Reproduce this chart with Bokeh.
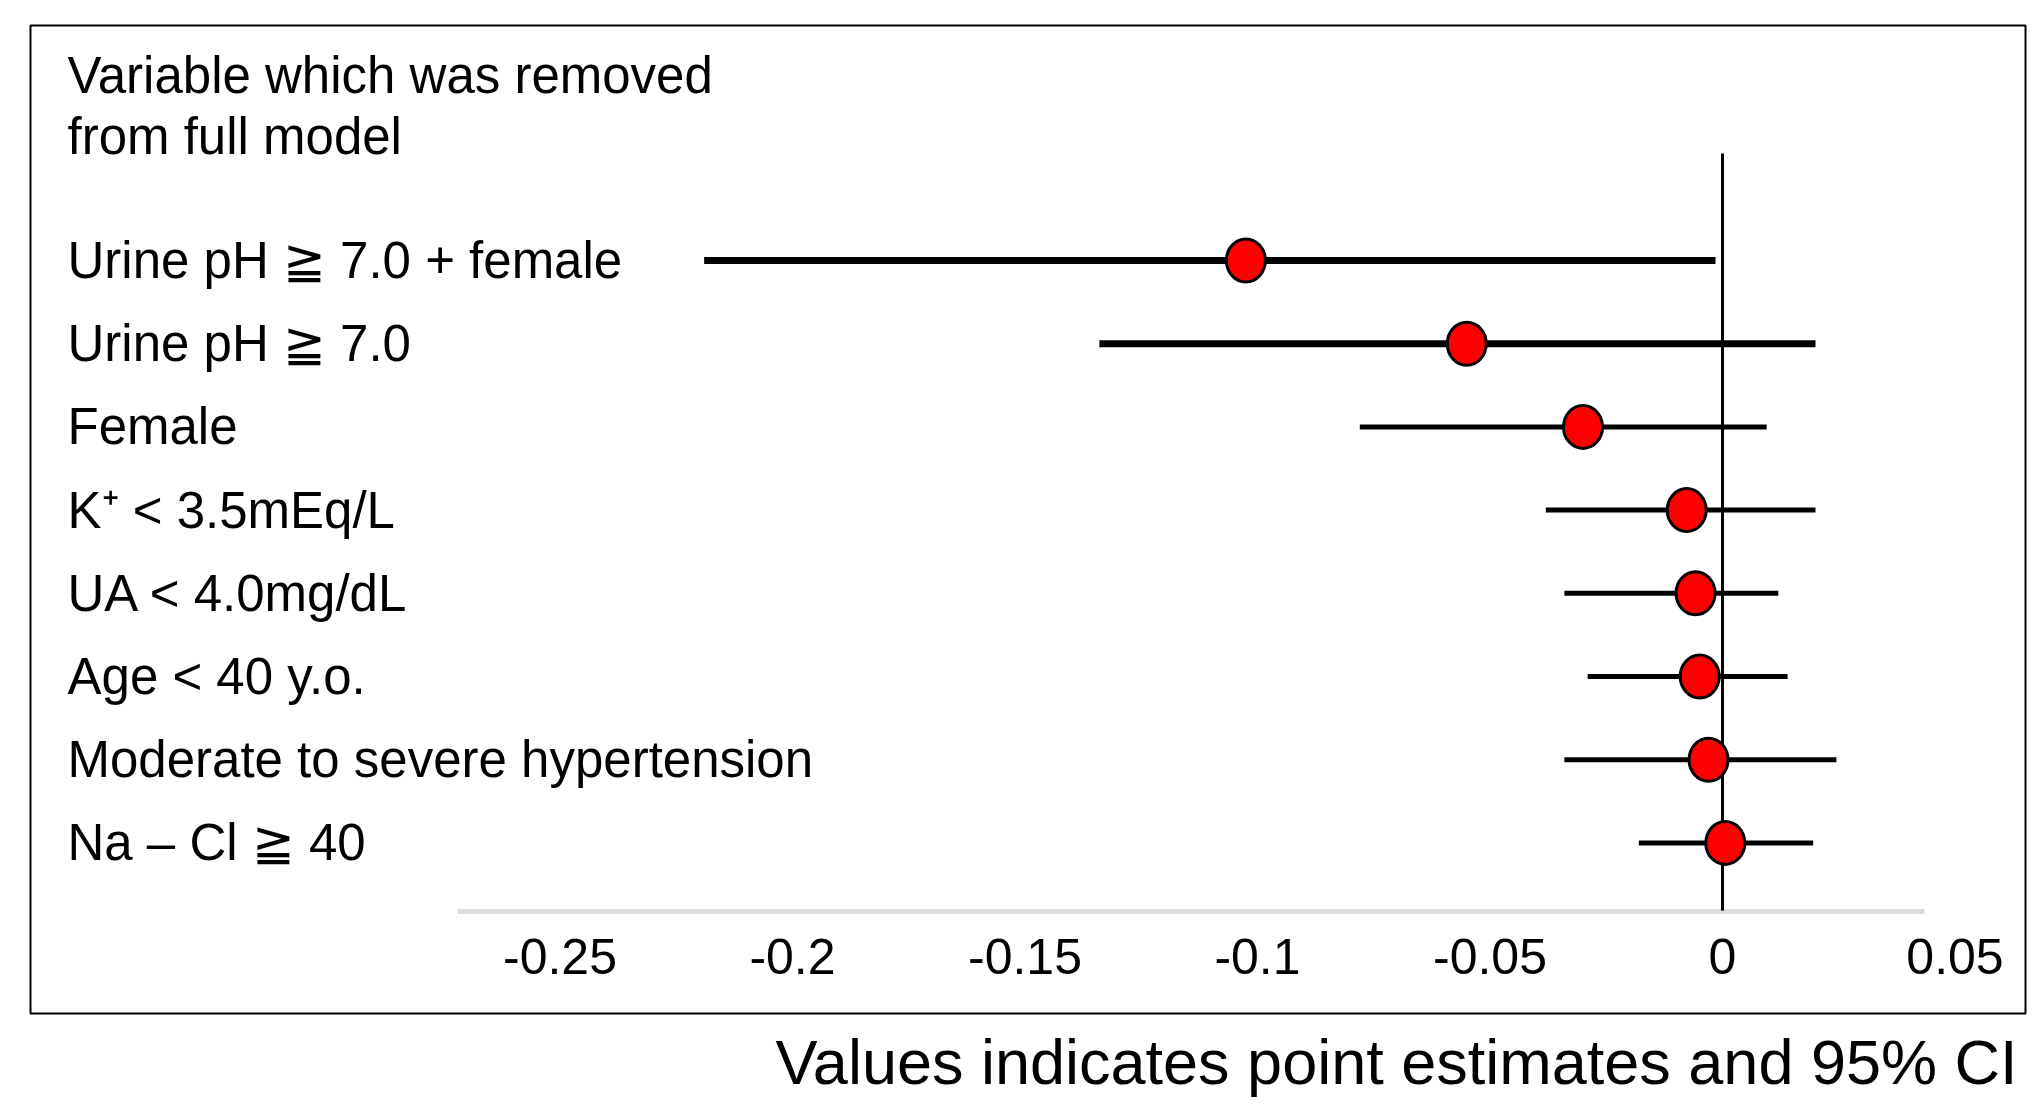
from bokeh.plotting import figure
from bokeh.models import Range1d, LinearAxis, FixedTicker, Title, ColumnDataSource
from bokeh.core.properties import value
from bokeh.embed import file_html
from bokeh.resources import INLINE

# ---------------- data ----------------
variables = [
    "Urine pH \u2267 7.0 + female",
    "Urine pH \u2267 7.0",
    "Female",
    "K\u207a < 3.5mEq/L",
    "UA < 4.0mg/dL",
    "Age < 40 y.o.",
    "Moderate to severe hypertension",
    "Na \u2013 Cl \u2267 40",
]
estimates = [-0.1025, -0.055, -0.030, -0.0077, -0.0058, -0.0049, -0.0030, 0.0006]
ci_lower = [-0.219, -0.134, -0.078, -0.038, -0.034, -0.029, -0.034, -0.018]
ci_upper = [-0.0015, 0.020, 0.0095, 0.020, 0.012, 0.014, 0.0245, 0.0195]
tick_values = [-0.25, -0.2, -0.15, -0.1, -0.05, 0.0, 0.05]
tick_labels = ["-0.25", "-0.2", "-0.15", "-0.1", "-0.05", "0", "0.05"]
header_lines = ["Variable which was removed", "from full model"]
caption = "Values indicates point estimates and 95% CI"

# ---------------- layout (pixels, figure coordinates) ----------------
W, H = 2027, 1107
FR_L, FR_T, FR_R, FR_B = 30, 25, 2025, 1013   # the box
ZERO_PX = 1722          # x pixel of value 0
PX_PER_UNIT = 4650.0
ROW0_PX = 260.0         # y pixel of first row
ROW_STEP = 83.2

def px_to_x(px):
    return (px - ZERO_PX) / PX_PER_UNIT

def px_to_y(py):
    return (py - ROW0_PX) / ROW_STEP

x_range = Range1d(px_to_x(FR_L), px_to_x(FR_R))
y_range = Range1d(px_to_y(FR_B), px_to_y(FR_T))

p = figure(width=W, height=H, x_range=x_range, y_range=y_range,
           output_backend="svg", toolbar_location=None,
           x_axis_location=None, y_axis_location=None,
           min_border_left=FR_L, min_border_top=FR_T,
           min_border_right=W - FR_R, min_border_bottom=H - FR_B)
p.grid.visible = False
p.outline_line_color = "black"
p.outline_line_width = 2
p.background_fill_color = "white"
p.border_fill_color = "white"

line_widths = [7, 7, 5, 5, 5, 5, 5, 5]
src = ColumnDataSource(dict(
    row=list(range(len(variables))),
    variable=variables,
    est=estimates,
    lo=ci_lower,
    hi=ci_upper,
    lw=line_widths,
))

FONT = value("Liberation Sans")

# header
p.text(x=[px_to_x(67)] * 2, y=[px_to_y(75), px_to_y(136)], text=header_lines,
       text_font=FONT, text_font_size="51px", text_align="left",
       text_baseline="middle", text_color="black")

# row labels
p.text(x=px_to_x(67), y="row", text="variable", source=src,
       text_font=FONT, text_font_size="51px", text_align="left",
       text_baseline="middle", text_color="black")

# axis line (light gray)
axis_y = px_to_y(911)
p.segment(x0=[px_to_x(457)], x1=[px_to_x(1924)], y0=[axis_y], y1=[axis_y],
          line_color="#dcdcdc", line_width=5)

# zero reference line
p.segment(x0=[0], x1=[0], y0=[px_to_y(153)], y1=[px_to_y(910)],
          line_color="black", line_width=3)

# confidence intervals
p.segment(x0="lo", x1="hi", y0="row", y1="row", source=src,
          line_color="black", line_width="lw")

# point estimates
p.ellipse(x="est", y="row", width=39, height=43, width_units="screen",
          height_units="screen", source=src, fill_color="#ff0000",
          line_color="black", line_width=3)

# x axis drawn inside the box
xaxis = LinearAxis(fixed_location=axis_y,
                   ticker=FixedTicker(ticks=tick_values),
                   major_label_overrides=dict(zip(tick_values, tick_labels)),
                   axis_line_color=None, major_tick_line_color=None,
                   minor_tick_line_color=None,
                   major_label_text_font="Liberation Sans",
                   major_label_text_font_size="50px",
                   major_label_text_color="black",
                   major_label_standoff=21)
p.add_layout(xaxis, "below")

# caption below the box
cap = Title(text=caption, align="left", offset=745,
            text_font="Liberation Sans", text_font_size="63px",
            text_font_style="normal", text_color="black", standoff=22)
p.add_layout(cap, "below")

open("out.html", "w").write(file_html(p, INLINE))
